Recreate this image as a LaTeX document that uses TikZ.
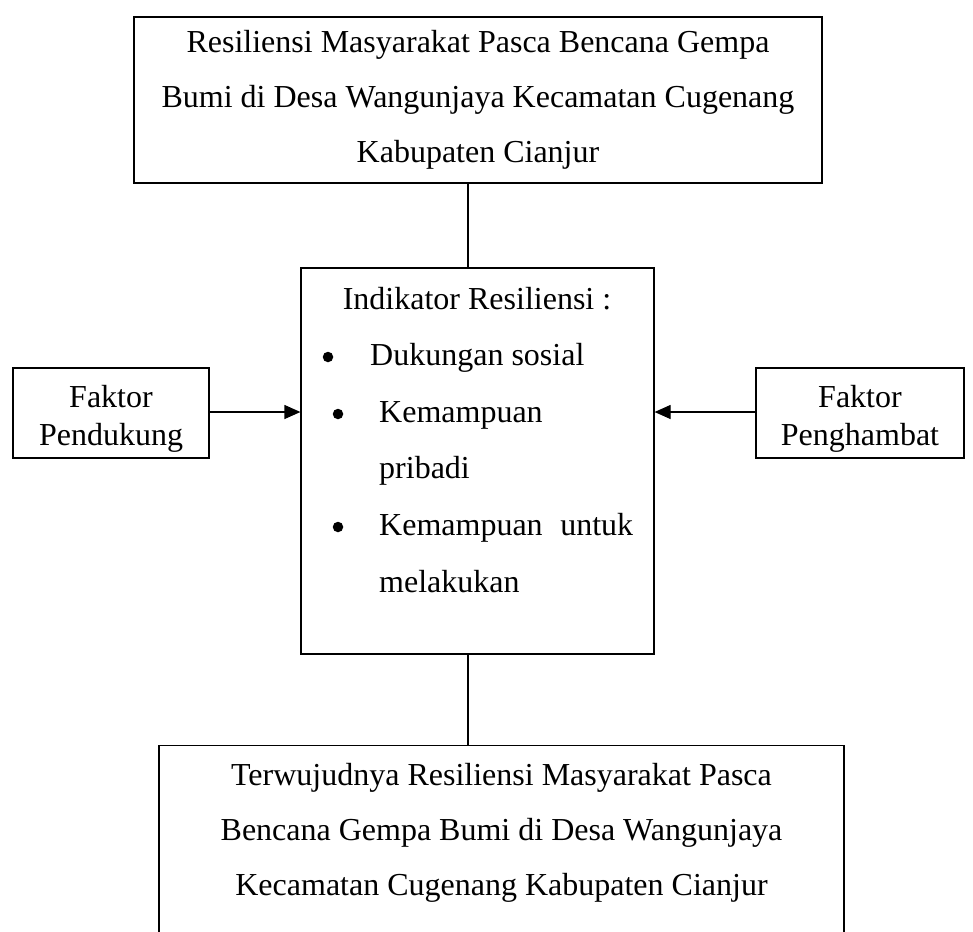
\documentclass[tikz,border=0pt]{standalone}
\usepackage{fontspec}
\setmainfont{Liberation Serif}
\usetikzlibrary{arrows.meta}
\begin{document}
\begin{tikzpicture}[x=1pt,y=-1pt,
  box/.style={draw,line width=1.2pt,rectangle,inner sep=0pt},
  txt/.style={font=\fontsize{32}{55}\selectfont,inner sep=0pt,align=center},
  sidetxt/.style={font=\fontsize{32}{37.5}\selectfont,inner sep=0pt,align=center},
  itm/.style={font=\fontsize{32}{55}\selectfont,inner sep=0pt,anchor=base west},
  dotb/.style={circle,fill,inner sep=0pt,minimum size=10.5pt},
  conn/.style={line width=1.2pt},
  arr/.style={line width=1.2pt,-{Triangle[length=16pt,width=14pt]}}]
\clip (0,0) rectangle (973,931);
\fill[white] (0,0) rectangle (973,931);
\coordinate (axis) at (468,0);
% top box
\node[box,minimum width=688pt,minimum height=166pt] (top) at (478,100) {};
\node[txt] (toptxt) at (478,100) {Resiliensi Masyarakat Pasca Bencana Gempa\\Bumi di Desa Wangunjaya Kecamatan Cugenang\\Kabupaten Cianjur};
% middle box
\node[box,minimum width=353pt,minimum height=386pt] (mid) at (477.5,461) {};
\node[font=\fontsize{32}{55}\selectfont,inner sep=0pt,anchor=base] (ind) at (477,309) {Indikator Resiliensi :};
\node[dotb] (b1) at (328,357) {};
\node[itm] (i1) at (370,365.6) {Dukungan sosial};
\node[dotb] (b2) at (338,414) {};
\node[itm] (i2) at (379,422.2) {Kemampuan};
\node[itm] (i2b) at (379,478.8) {pribadi};
\node[dotb] (b3) at (338,527) {};
\node[itm] (i3) at (379,535.4) {\makebox[254pt][s]{Kemampuan untuk}};
\node[itm] (i3b) at (379,592) {melakukan};
% side boxes
\node[box,minimum width=196pt,minimum height=90pt] (left) at (111,413) {};
\node[sidetxt] (lefttxt) at (111,419) {Faktor\\Pendukung};
\node[box,minimum width=208pt,minimum height=90pt] (right) at (860,413) {};
\node[sidetxt] (righttxt) at (860,419) {Faktor\\Penghambat};
% bottom box (cut off at the bottom)
\node[box,minimum width=685pt,minimum height=240pt,anchor=north] (bot) at (501.5,745) {};
\node[txt] (bottxt) at (501.5,833) {Terwujudnya Resiliensi Masyarakat Pasca\\Bencana Gempa Bumi di Desa Wangunjaya\\Kecamatan Cugenang Kabupaten Cianjur};
% connectors
\draw[conn] (top.south -| axis) -- (mid.north -| axis);
\draw[conn] (mid.south -| axis) -- (bot.north -| axis);
\coordinate (ly) at (0,412);
\draw[arr] (left.east |- ly) -- (mid.west |- ly);
\draw[arr] (right.west |- ly) -- (mid.east |- ly);
\end{tikzpicture}
\end{document}
